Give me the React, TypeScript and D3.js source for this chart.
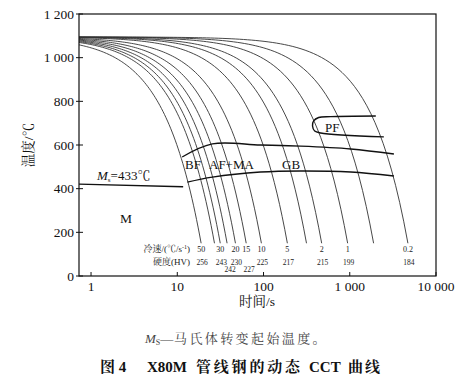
import React from "react";
import * as d3 from "d3";

// ---- data ----
const coolingRates = [50, 35, 30, 25, 20, 15, 10, 5, 3, 2, 1, 0.5, 0.2]; // °C/s
const rateLabels = ["50", "", "30", "", "20", "15", "10", "5", "", "2", "1", "", "0.2"];
const hardnessLabels = ["256", "", "243", "242", "230", "227", "225", "217", "", "215", "199", "", "184"];
const hardnessLow = [false, false, false, true, false, true, false, false, false, false, false, false, false];
const startTemp = 1095; // °C at t = 0
const endTemp = 150; // °C where the curves stop

const yTicks = [0, 200, 400, 600, 800, 1000, 1200];
const yTickLabels = ["0", "200", "400", "600", "800", "1 000", "1 200"];
const xTicks = [1, 10, 100, 1000, 10000];
const xTickLabels = ["1", "10", "100", "1 000", "10 000"];

const msLine: [number, number][] = [[0.725, 421], [11.7, 409]];
const bainiteStart: [number, number][] = [[13.1, 430], [25.5, 453], [92, 476], [269, 481], [1027, 476], [3250, 458]];
const ferriteStart: [number, number][] = [[11.4, 545], [25.5, 605], [92, 600], [269, 595], [1027, 582], [3250, 559]];
const pfLoop: [number, number][] = [[2005, 733], [601, 730], [436, 726], [381, 710], [370, 687], [392, 664], [460, 655], [2484, 637]];

const serif = "'Liberation Serif', 'Times New Roman', 'Noto Serif CJK SC', 'Noto Sans CJK SC', serif";

export default function App() {
  const x = d3.scaleLog().domain([0.725, 10000]).range([79, 436]);
  const y = d3.scaleLinear().domain([0, 1200]).range([276, 14]);
  const line = d3.line<[number, number]>().x((d) => x(d[0])).y((d) => y(d[1]));
  const smooth = d3.line<[number, number]>().x((d) => x(d[0])).y((d) => y(d[1])).curve(d3.curveCatmullRom.alpha(0.5));

  const coolingPath = (r: number) => {
    const tEnd = (startTemp - endTemp) / r;
    const pts: [number, number][] = [];
    const n = 80;
    const l0 = Math.log10(0.725);
    const l1 = Math.log10(tEnd);
    for (let i = 0; i <= n; i++) {
      const t = Math.pow(10, l0 + ((l1 - l0) * i) / n);
      pts.push([t, startTemp - r * t]);
    }
    return line(pts) as string;
  };
  const endX = (r: number) => x((startTemp - endTemp) / r);

  return (
    <svg width={474} height={381} style={{ position: "absolute", left: 0, top: 0, background: "#fff" }} fontFamily={serif}>
      <rect x={0} y={0} width={474} height={381} fill="#fff" />
      {/* cooling curves */}
      <g fill="none" stroke="#333" strokeWidth={0.9}>
        {coolingRates.map((r, i) => (
          <path key={i} d={coolingPath(r)} />
        ))}
      </g>
      {/* transformation lines */}
      <g fill="none" stroke="#111" strokeWidth={1.4}>
        <path d={line(msLine) as string} />
        <path d={smooth(bainiteStart) as string} />
        <path d={smooth(ferriteStart) as string} />
        <path d={smooth(pfLoop) as string} />
      </g>
      {/* frame */}
      <rect x={79} y={14} width={357} height={262} fill="none" stroke="#111" strokeWidth={1.2} />
      {/* y ticks */}
      {yTicks.map((v, i) => (
        <g key={i}>
          <line x1={76} x2={83} y1={y(v)} y2={y(v)} stroke="#111" strokeWidth={1} />
          <text x={74} y={y(v) + 4.5} textAnchor="end" fontSize={13.5} fill="#111">
            {yTickLabels[i]}
          </text>
        </g>
      ))}
      {/* x ticks */}
      {xTicks.map((v, i) => (
        <g key={i}>
          <line x1={x(v)} x2={x(v)} y1={272} y2={276} stroke="#111" strokeWidth={1} />
          <text x={x(v)} y={291} textAnchor="middle" fontSize={13.5} fill="#111">
            {xTickLabels[i]}
          </text>
        </g>
      ))}
      <text x={257} y={306} textAnchor="middle" fontSize={13.5} fill="#111">时间/s</text>
      <text transform="translate(33,145) rotate(-90)" textAnchor="middle" fontSize={13.5} fill="#111">温度/℃</text>

      {/* region labels */}
      <text x={97} y={180} fontSize={13} fill="#111">
        <tspan fontStyle="italic">M</tspan>
        <tspan fontSize={7} dy={2}>s</tspan>
        <tspan dy={-2}>=433℃</tspan>
      </text>
      <text x={126} y={223} textAnchor="middle" fontSize={13.5} fill="#111">M</text>
      <text x={185} y={169} fontSize={13} fill="#111">BF</text>
      <text x={209} y={169} fontSize={13} fill="#111">AF+MA</text>
      <text x={282} y={169} fontSize={13} fill="#111">GB</text>
      <text x={325} y={132} fontSize={13} fill="#111">PF</text>

      {/* cooling rate / hardness rows */}
      <text x={190} y={252} textAnchor="end" fontSize={9} fill="#222">
        冷速/(℃/s<tspan fontSize={6} dy={-3}>-1</tspan><tspan dy={3}>)</tspan>
      </text>
      <text x={190} y={265} textAnchor="end" fontSize={9} fill="#222">硬度(HV)</text>
      {coolingRates.map((r, i) =>
        rateLabels[i] ? (
          <text key={"r" + i} x={endX(r)} y={252} textAnchor="middle" fontSize={8} fill="#222">
            {rateLabels[i]}
          </text>
        ) : null
      )}
      {coolingRates.map((r, i) =>
        hardnessLabels[i] ? (
          <text
            key={"h" + i}
            x={endX(r) + (hardnessLow[i] ? 3 : 1)}
            y={hardnessLow[i] ? 271.5 : 264.5}
            textAnchor="middle"
            fontSize={7.5}
            fill="#222"
          >
            {hardnessLabels[i]}
          </text>
        ) : null
      )}

      {/* captions */}
      <text x={145} y={343} fontSize={13} fill="#444">
        <tspan fontStyle="italic">M</tspan>
        <tspan fontSize={8} dy={2}>S</tspan>
        <tspan dy={-2}>—</tspan>
      </text>
      <text x={174} y={343} fontSize={13} fill="#444" letterSpacing={2.4}>马氏体转变起始温度。</text>
      <text y={372} fontSize={15} fontWeight="bold" fill="#111">
        <tspan x={100}>图 4</tspan>
        <tspan x={147}>X80M</tspan>
        <tspan x={196} letterSpacing={2.8}>管线钢的动态</tspan>
        <tspan x={309}>CCT</tspan>
        <tspan x={348} letterSpacing={2}>曲线</tspan>
      </text>
    </svg>
  );
}
